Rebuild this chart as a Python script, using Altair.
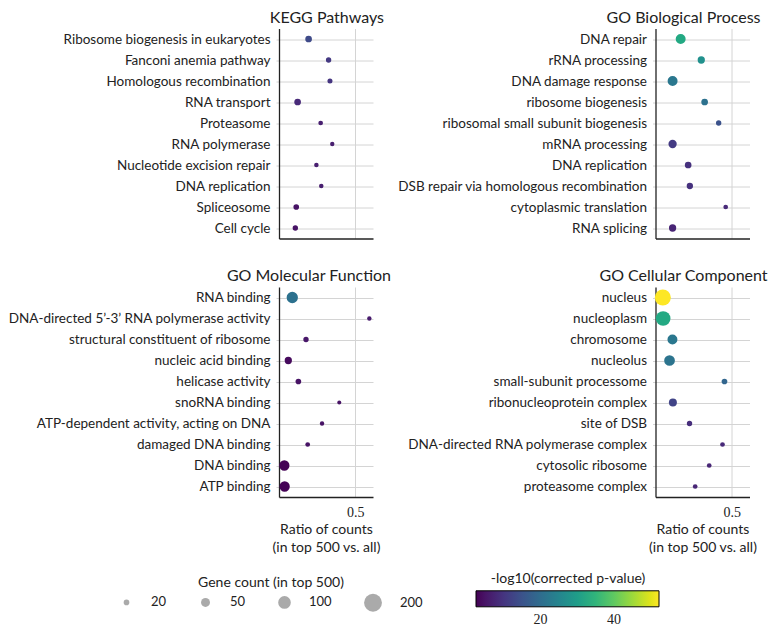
import altair as alt
import pandas as pd

SANS = "Lato"
SERIF = "Liberation Serif"

kegg_terms = ["Ribosome biogenesis in eukaryotes", "Fanconi anemia pathway", "Homologous recombination",
              "RNA transport", "Proteasome", "RNA polymerase", "Nucleotide excision repair",
              "DNA replication", "Spliceosome", "Cell cycle"]
kegg_ratio = [0.194, 0.325, 0.334, 0.122, 0.273, 0.349, 0.245, 0.277, 0.113, 0.107]
kegg_count = [28, 18, 16, 28, 14, 12, 13, 13, 20, 18]
kegg_logp = [13.4, 10.5, 9.9, 8.2, 6.5, 6.5, 6.5, 6.5, 4.7, 4.7]

bp_terms = ["DNA repair", "rRNA processing", "DNA damage response", "ribosome biogenesis",
            "ribosomal small subunit biogenesis", "mRNA processing", "DNA replication",
            "DSB repair via homologous recombination", "cytoplasmic translation", "RNA splicing"]
bp_ratio = [0.165, 0.30, 0.112, 0.322, 0.414, 0.112, 0.214, 0.225, 0.46, 0.112]
bp_count = [62, 33, 62, 28, 18, 43, 28, 25, 14, 33]
bp_logp = [32.6, 27.4, 22.1, 21.0, 14.8, 10.9, 9.4, 9.4, 8.2, 7.4]

mf_terms = ["RNA binding", "DNA-directed 5\u2019-3\u2019 RNA polymerase activity", "structural constituent of ribosome",
            "nucleic acid binding", "helicase activity", "snoRNA binding",
            "ATP-dependent activity, acting on DNA", "damaged DNA binding", "DNA binding", "ATP binding"]
mf_ratio = [0.087, 0.592, 0.177, 0.061, 0.127, 0.395, 0.282, 0.188, 0.035, 0.037]
mf_count = [80, 12, 18, 33, 20, 10, 12, 14, 66, 66]
mf_logp = [21.0, 5.9, 5.3, 3.6, 4.7, 4.7, 4.7, 4.7, 2.5, 2.5]

cc_terms = ["nucleus", "nucleoplasm", "chromosome", "nucleolus", "small-subunit processome",
            "ribonucleoprotein complex", "site of DSB", "DNA-directed RNA polymerase complex",
            "cytosolic ribosome", "proteasome complex"]
cc_ratio = [0.048, 0.05, 0.111, 0.092, 0.452, 0.114, 0.223, 0.439, 0.352, 0.26]
cc_count = [160, 135, 62, 72, 20, 40, 18, 14, 14, 14]
cc_logp = [52.3, 32.6, 22.1, 21.5, 18.6, 12.4, 8.9, 8.2, 7.6, 7.6]

size_values = [20, 50, 100, 200]
color_values = [20, 40]

size_legend = alt.Legend(
    title="Gene count (in top 500)", orient="none", legendX=-159, legendY=547.7,
    direction="horizontal", values=size_values, titleAnchor="middle",
    titleFont=SANS, titleFontSize=14, titleFontWeight="normal", titleColor="#222",
    labelFont=SANS, labelFontSize=13, labelColor="#222", titlePadding=3.5,
    symbolType="circle", columnPadding=32, labelOffset=18,
    symbolFillColor="#aaaaaa", symbolStrokeWidth=0, symbolOpacity=1,
)
color_legend = alt.Legend(
    title="-log10(corrected p-value)", orient="none", legendX=197, legendY=543.3,
    direction="horizontal", gradientLength=183, gradientThickness=16, values=color_values,
    titleAnchor="middle", titleFont=SANS, titleFontSize=14, titleFontWeight="normal", titleColor="#222",
    labelFont=SERIF, labelFontSize=14, labelColor="#222", titlePadding=5, labelOffset=6,
    gradientStrokeColor="black", gradientStrokeWidth=1,
)


def panel(title, terms, ratio, count, logp, bottom):
    df = pd.DataFrame({"term": terms, "ratio": ratio, "count": count, "logp": logp})
    if bottom:
        xaxis = alt.Axis(values=[0.5], format=".1f", labelFont=SERIF, labelFontSize=14, ticks=False,
                         tickSize=0, labelPadding=8, grid=True,
                         title=["Ratio of counts", "(in top 500 vs. all)"], titleFontSize=14,
                         titlePadding=3, titleLineHeight=18)
    else:
        xaxis = alt.Axis(values=[0.5], labels=False, ticks=False, tickSize=0, grid=True, title=None)
    return alt.Chart(df).mark_circle(opacity=1).encode(
        x=alt.X("ratio:Q", scale=alt.Scale(domain=[0, 0.616], nice=False, zero=False, clamp=True), axis=xaxis),
        y=alt.Y("term:N", sort=terms, scale=alt.Scale(type="point", padding=0.5),
                axis=alt.Axis(title=None, ticks=True, tickSize=3, tickColor="#d4d4d4", labelPadding=6,
                              grid=True, labelFontSize=13.5, labelLimit=400)),
        size=alt.Size("count:Q", scale=alt.Scale(domain=[0, 250], range=[0, 400]), legend=size_legend),
        color=alt.Color("logp:Q", scale=alt.Scale(scheme="viridis", domain=[2.4, 52.3]), legend=color_legend),
    ).properties(
        width=94, height=210,
        title=alt.TitleParams(title, anchor="end", dx=11, dy=16, offset=6, fontSize=16, baseline="alphabetic",
                              fontWeight="normal", font=SANS, color="#222"),
    )


chart = alt.concat(
    panel("KEGG Pathways", kegg_terms, kegg_ratio, kegg_count, kegg_logp, False),
    panel("GO Biological Process", bp_terms, bp_ratio, bp_count, bp_logp, False),
    panel("GO Molecular Function", mf_terms, mf_ratio, mf_count, mf_logp, True),
    panel("GO Cellular Component", cc_terms, cc_ratio, cc_count, cc_logp, True),
    columns=2, spacing={"row": 48.5, "column": 282.5}, bounds="flush",
).properties(
    autosize=alt.AutoSizeParams(type="none"),
    padding={"left": 279, "top": 28.5, "right": 489, "bottom": 607.5},
    background="white",
).configure_view(strokeWidth=0).configure_axis(
    domainColor="#222", domainWidth=1.3, gridColor="#d4d4d4", gridWidth=1,
    labelColor="#222", labelFont=SANS, titleFont=SANS, titleColor="#222", titleFontWeight="normal",
)

chart.save("out.html", embed_options={"renderer": "svg", "actions": False})
